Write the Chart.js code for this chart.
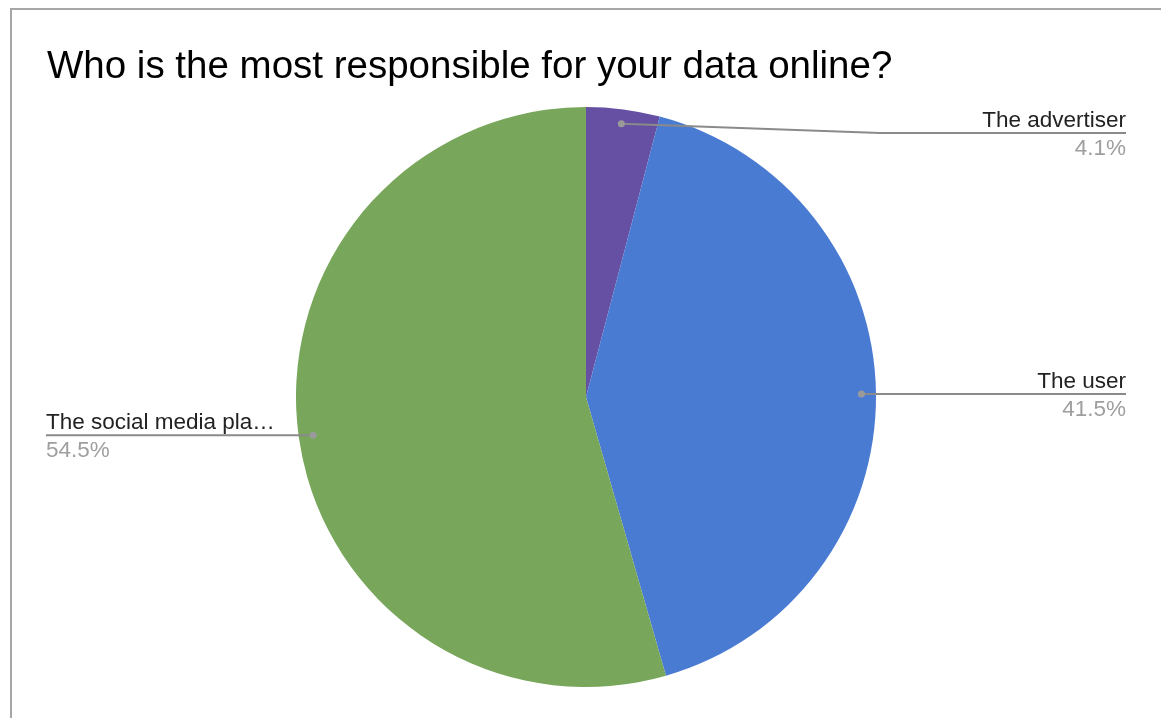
<!DOCTYPE html>
<html>
<head>
<meta charset="utf-8">
<script src="https://cdn.jsdelivr.net/npm/chart.js@4"></script>
<style>
    html, body { margin: 0; padding: 0; background: #fff; overflow: hidden; }
    #wrap { position: relative; width: 1161px; height: 718px; }
    #frame {
        position: absolute; left: 10px; top: 8px; width: 1300px; height: 900px;
        border-left: 2px solid #a6a6a6; border-top: 2px solid #a6a6a6;
    }
    canvas { position: absolute; left: 0; top: 0; }
</style>
</head>
<body>
<div id="wrap">
    <div id="frame"></div>
    <canvas id="pie" width="1161" height="718"></canvas>
</div>
<script>
const chartTitle = 'Who is the most responsible for your data online?';
const categories = ['The advertiser', 'The user', 'The social media platform'];
const shares = [4.1, 41.5, 54.5];
const sliceColors = ['#6650a3', '#4a7bd2', '#78a65a'];

// shorten a label with an ellipsis until it fits
function fitText(ctx, text, maxWidth) {
    if (ctx.measureText(text).width <= maxWidth) return text;
    let t = text;
    while (t.length > 1 && ctx.measureText(t + '\u2026').width > maxWidth) {
        t = t.slice(0, -1);
    }
    return t.trimEnd() + '\u2026';
}

const calloutPlugin = {
    id: 'callouts',
    afterDraw(chart) {
        const ctx = chart.ctx;
        const area = chart.chartArea;
        const meta = chart.getDatasetMeta(0);
        const font = '22.5px "Liberation Sans", Arial, sans-serif';

        ctx.save();
        ctx.fillStyle = '#000';
        ctx.font = '38.5px "Liberation Sans", Arial, sans-serif';
        ctx.textAlign = 'left';
        ctx.textBaseline = 'alphabetic';
        ctx.fillText(chartTitle, 47, 78);

        meta.data.forEach((arc, i) => {
            const p = arc.getProps(['x', 'y', 'startAngle', 'endAngle', 'outerRadius'], true);
            const mid = (p.startAngle + p.endAngle) / 2;
            const r = p.outerRadius * 0.95;
            const dx = p.x + Math.cos(mid) * r;
            const dy = p.y + Math.sin(mid) * r;
            const right = Math.cos(mid) >= 0;
            const lineY = Math.max(dy, area.top + 26);
            const endX = right ? 1126 : 46;
            const bendX = right ? Math.max(dx, 880) : Math.min(dx, 300);

            ctx.strokeStyle = '#8a8a8a';
            ctx.lineWidth = 2;
            ctx.beginPath();
            ctx.moveTo(dx, dy);
            if (lineY !== dy) ctx.lineTo(bendX, lineY);
            ctx.lineTo(endX, lineY);
            ctx.stroke();

            ctx.fillStyle = '#9a9a9a';
            ctx.beginPath();
            ctx.arc(dx, dy, 3.5, 0, Math.PI * 2);
            ctx.fill();

            ctx.font = font;
            ctx.textAlign = right ? 'right' : 'left';
            ctx.fillStyle = '#222';
            ctx.fillText(fitText(ctx, categories[i], 235), endX, lineY - 6);
            ctx.fillStyle = '#9e9e9e';
            ctx.fillText(shares[i].toFixed(1) + '%', endX, lineY + 22);
        });
        ctx.restore();
    }
};

new Chart(document.getElementById('pie'), {
    type: 'pie',
    data: {
        labels: categories,
        datasets: [{
            data: shares,
            backgroundColor: sliceColors,
            borderWidth: 0
        }]
    },
    options: {
        responsive: false,
        animation: false,
        layout: {
            padding: { top: 107, bottom: 31, left: 296, right: 285 }
        },
        plugins: {
            legend: { display: false },
            title: { display: false },
            tooltip: { enabled: false }
        }
    },
    plugins: [calloutPlugin]
});
</script>
</body>
</html>
